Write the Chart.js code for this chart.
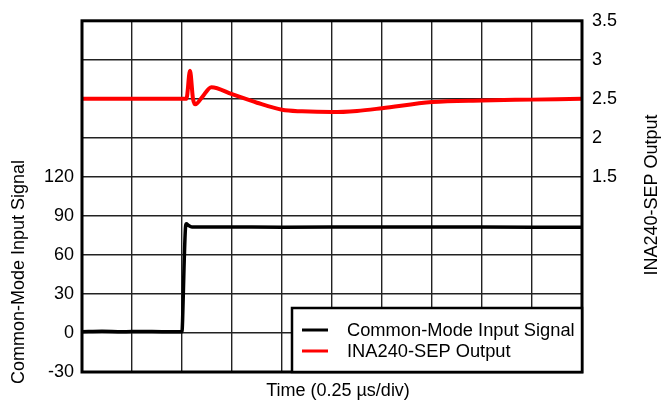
<!DOCTYPE html>
<html>
<head>
    <title>INA240-SEP Common-Mode Step Response</title>
    <script src="https://cdn.jsdelivr.net/npm/chart.js"></script>
    <style>
        body {
            margin: 0;
            padding: 0;
            background: #ffffff;
        }

        .chart-wrapper {
            width: 666px;
            height: 404px;
        }
    </style>
</head>
<body>
<div class="chart-wrapper">
    <canvas id="stepChart" width="666" height="404"></canvas>
</div>

<script>
    // Time axis in microseconds (0.25 us per division, 10 divisions)
    const cmTime = [0, 0.1, 0.2, 0.3, 0.4, 0.5, 0.503, 0.51, 0.517, 0.522, 0.53, 0.55, 0.7, 1.0, 1.5, 2.0, 2.5];
    const cmValues = [1, 1.3, 0.9, 1.2, 1, 1, 10, 50, 80, 84, 83, 81.5, 81.5, 81.3, 81.5, 81.4, 81.3];

    const outTime = [0, 0.25, 0.5, 0.522, 0.54, 0.555, 0.567, 0.6, 0.647, 0.75, 0.875, 1.0, 1.1, 1.25, 1.375, 1.5, 1.75, 2.0, 2.25, 2.5];
    const outValues = [2.5, 2.5, 2.5, 2.5, 2.86, 2.5, 2.43, 2.52, 2.65, 2.56, 2.45, 2.36, 2.34, 2.33, 2.345, 2.38, 2.46, 2.48, 2.49, 2.5];

    const leftTicksShown = [-30, 0, 30, 60, 90, 120];
    const rightTicksShown = [1.5, 2, 2.5, 3, 3.5];

    const FONT = "'Liberation Sans', Arial, sans-serif";

    // Frame, titles and legend drawn on top
    const overlayPlugin = {
        id: 'overlay',
        afterDraw(chart) {
            const ctx = chart.ctx;
            const a = chart.chartArea;
            ctx.save();

            // plot frame
            ctx.strokeStyle = '#000';
            ctx.lineWidth = 3;
            ctx.strokeRect(a.left, a.top, a.right - a.left, a.bottom - a.top);

            // axis titles
            ctx.fillStyle = '#000';
            ctx.font = '18px ' + FONT;
            ctx.textAlign = 'center';
            ctx.textBaseline = 'middle';
            ctx.fillText('Time (0.25 \u00b5s/div)', 338, 391);

            ctx.save();
            ctx.translate(19, 272);
            ctx.rotate(-Math.PI / 2);
            ctx.fillText('Common-Mode Input Signal', 0, 0);
            ctx.restore();

            ctx.save();
            ctx.translate(652, 195);
            ctx.rotate(-Math.PI / 2);
            ctx.fillText('INA240-SEP Output', 0, 0);
            ctx.restore();

            // legend box
            const lx = 292, ly = 308;
            ctx.fillStyle = '#fff';
            ctx.fillRect(lx, ly, a.right - lx, a.bottom - ly);
            ctx.lineWidth = 2.5;
            ctx.strokeRect(lx, ly, a.right - lx, a.bottom - ly);

            ctx.font = '18.3px ' + FONT;
            ctx.textAlign = 'left';
            chart.data.datasets.forEach((ds, i) => {
                const y = 330 + i * 21;
                ctx.strokeStyle = ds.borderColor;
                ctx.lineWidth = 3;
                ctx.beginPath();
                ctx.moveTo(302, y);
                ctx.lineTo(328, y);
                ctx.stroke();
                ctx.fillStyle = '#000';
                ctx.fillText(ds.label, 347, y + 1);
            });

            ctx.restore();
        }
    };

    const ctx = document.getElementById('stepChart').getContext('2d');

    new Chart(ctx, {
        type: 'line',
        data: {
            datasets: [
                {
                    label: 'Common-Mode Input Signal',
                    data: cmTime.map((t, i) => ({ x: t, y: cmValues[i] })),
                    borderColor: '#000000',
                    borderWidth: 3.5,
                    pointRadius: 0,
                    cubicInterpolationMode: 'monotone',
                    yAxisID: 'yLeft'
                },
                {
                    label: 'INA240-SEP Output',
                    data: outTime.map((t, i) => ({ x: t, y: outValues[i] })),
                    borderColor: '#ff0000',
                    borderWidth: 4,
                    pointRadius: 0,
                    cubicInterpolationMode: 'monotone',
                    yAxisID: 'yRight'
                }
            ]
        },
        options: {
            responsive: false,
            animation: false,
            layout: { padding: { top: 16, left: 0, right: 0, bottom: 0 } },
            plugins: {
                legend: { display: false },
                tooltip: { enabled: false }
            },
            scales: {
                x: {
                    type: 'linear',
                    min: 0,
                    max: 2.5,
                    ticks: { stepSize: 0.25, display: false },
                    grid: { color: '#222', lineWidth: 1.4, drawTicks: false },
                    border: { display: false },
                    afterFit(scale) { scale.height = 32; }
                },
                yLeft: {
                    position: 'left',
                    min: -30,
                    max: 240,
                    ticks: {
                        stepSize: 30,
                        color: '#000',
                        padding: 8,
                        font: { family: FONT, size: 18 },
                        callback: v => leftTicksShown.includes(v) ? v : ''
                    },
                    grid: { color: '#222', lineWidth: 1.4, drawTicks: false },
                    border: { display: false },
                    afterFit(scale) { scale.width = 82; }
                },
                yRight: {
                    position: 'right',
                    min: -1,
                    max: 3.5,
                    ticks: {
                        stepSize: 0.5,
                        color: '#000',
                        padding: 10,
                        font: { family: FONT, size: 18 },
                        callback: v => rightTicksShown.includes(v) ? v : ''
                    },
                    grid: { drawOnChartArea: false, drawTicks: false },
                    border: { display: false },
                    afterFit(scale) { scale.width = 84; }
                }
            }
        },
        plugins: [overlayPlugin]
    });
</script>
</body>
</html>
